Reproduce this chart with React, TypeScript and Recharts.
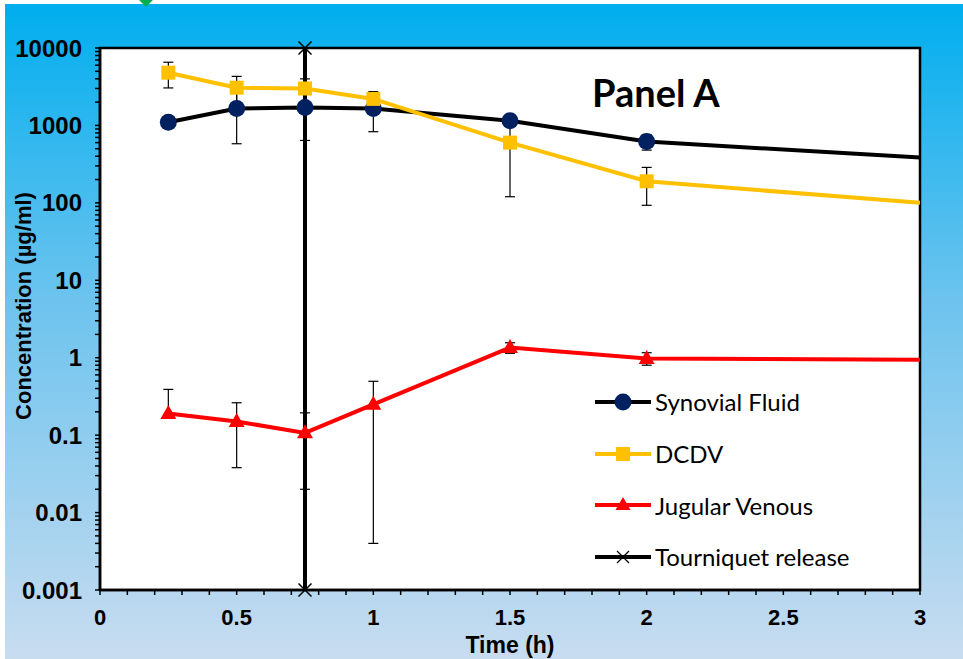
import React from "react";
import {
  LineChart,
  Line,
  XAxis,
  YAxis,
  ErrorBar,
  Legend,
  CartesianGrid,
  ReferenceArea,
} from "recharts";

// sampling times (h)
const times = [0.25, 0.5, 0.75, 1, 1.5, 2, 3];
// concentrations (µg/ml)
const synovialFluid = [1100, 1650, 1700, 1650, 1150, 620, 385];
const synovialErr = [null, 1070, 1060, 820, null, 140, null];
const dcdv = [4800, 3070, 3000, 2200, 600, 190, 100];
const dcdvErr = [1750, 1230, 990, 535, 480, 97, null];
const jugularVenous = [0.19, 0.15, 0.107, 0.25, 1.35, 0.98, 0.94];
const jugularErr = [[0.01, 0.2], 0.112, 0.087, 0.246, 0.21, 0.18, null];
// times with a plotted marker (last point is line only)
const markedTimes = [0.25, 0.5, 0.75, 1, 1.5, 2];

const tourniquetTime = [0.75, 0.75];
const tourniquetValue = [0.001, 10000];

const seriesNames = ["Synovial Fluid", "DCDV", "Jugular Venous", "Tourniquet release"];

const yDecades = [0.001, 0.01, 0.1, 1, 10, 100, 1000, 10000];
const yMinorSteps = [2, 3, 4, 5, 6, 7, 8, 9];
const xTicks = Array.from({ length: 31 }, (_, i) => Number((i * 0.1).toFixed(1)));
const xLabelTicks = [0, 0.5, 1, 1.5, 2, 2.5, 3];

const yTicks = [
  ...yDecades,
  ...yDecades.slice(0, -1).flatMap((d) => yMinorSteps.map((m) => d * m)),
].sort((a, b) => a - b);

const data = times.map((t, i) => ({
  t,
  synovial: synovialFluid[i],
  synovialErr: synovialErr[i],
  dcdv: dcdv[i],
  dcdvErr: dcdvErr[i],
  jugular: jugularVenous[i],
  jugularErr: jugularErr[i],
}));

const tourniquetData = tourniquetTime.map((t, i) => ({ t, release: tourniquetValue[i] }));

const NAVY = "#002060";
const GOLD = "#FFC000";
const RED = "#FF0000";
const AXIS_FONT = "'Liberation Sans', Arial, sans-serif";
const LEGEND_FONT = "Lato, 'Open Sans', sans-serif";

const isMarked = (p: any) => markedTimes.includes(p?.payload?.t);

const CircleDot = (p: any) =>
  isMarked(p) ? (
    <circle key={`c${p.index}`} cx={p.cx} cy={p.cy} r={8.5} fill={NAVY} />
  ) : (
    <g key={`c${p.index}`} />
  );

const SquareDot = (p: any) =>
  isMarked(p) ? (
    <rect key={`s${p.index}`} x={p.cx - 7} y={p.cy - 7} width={14} height={14} fill={GOLD} />
  ) : (
    <g key={`s${p.index}`} />
  );

const TriangleDot = (p: any) =>
  isMarked(p) ? (
    <polygon
      key={`t${p.index}`}
      points={`${p.cx},${p.cy - 8.5} ${p.cx - 8},${p.cy + 5.5} ${p.cx + 8},${p.cy + 5.5}`}
      fill={RED}
    />
  ) : (
    <g key={`t${p.index}`} />
  );

const CrossDot = (p: any) => (
  <path
    key={`x${p.index}`}
    d={`M${p.cx - 6.5},${p.cy - 6.5}L${p.cx + 6.5},${p.cy + 6.5}M${p.cx - 6.5},${p.cy + 6.5}L${p.cx + 6.5},${p.cy - 6.5}`}
    stroke="#000"
    strokeWidth={1.5}
    fill="none"
  />
);

const XTick = ({ x, y, payload }: any) => {
  if (!xLabelTicks.includes(payload.value)) return <g />;
  return (
    <text
      x={x}
      y={y}
      dy="0.71em"
      textAnchor="middle"
      fontFamily={AXIS_FONT}
      fontWeight="bold"
      fontSize={22}
      fill="#000"
    >
      {String(payload.value)}
    </text>
  );
};

const YTick = ({ x, y, payload }: any) => {
  if (!yDecades.includes(payload.value)) return <g />;
  return (
    <text
      x={x}
      y={y}
      dy="0.36em"
      textAnchor="end"
      fontFamily={AXIS_FONT}
      fontWeight="bold"
      fontSize={24}
      fill="#000"
    >
      {String(payload.value)}
    </text>
  );
};

const legendIcon = (name: string, color: string) => {
  const line = <line x1={0} y1={12} x2={56} y2={12} stroke={color} strokeWidth={4} />;
  let mark: React.ReactNode = null;
  if (name === "Synovial Fluid") mark = <circle cx={28} cy={12} r={8.5} fill={NAVY} />;
  if (name === "DCDV") mark = <rect x={21} y={5} width={14} height={14} fill={GOLD} />;
  if (name === "Jugular Venous")
    mark = <polygon points="28,4 20.5,17 35.5,17" fill={RED} />;
  if (name === "Tourniquet release")
    mark = <path d="M22,6L34,18M22,18L34,6" stroke="#000" strokeWidth={1.3} />;
  return (
    <svg width={58} height={24} style={{ display: "block" }}>
      {line}
      {mark}
    </svg>
  );
};

const renderLegend = (props: any) => {
  const items = [...(props.payload || [])].sort(
    (a: any, b: any) => seriesNames.indexOf(a.value) - seriesNames.indexOf(b.value)
  );
  return (
    <div style={{ fontFamily: LEGEND_FONT, fontSize: 24, color: "#000" }}>
      {items.map((entry: any) => (
        <div
          key={entry.value}
          style={{ display: "flex", alignItems: "center", height: 51.7, gap: 2 }}
        >
          {legendIcon(entry.value, entry.color)}
          <span>{entry.value}</span>
        </div>
      ))}
    </div>
  );
};

export default function App() {
  return (
    <div style={{ position: "absolute", left: 0, top: 0, width: 963, height: 659, background: "#fff" }}>
      <div
        style={{
          position: "absolute",
          left: 5,
          top: 4,
          width: 958,
          height: 655,
          background: "linear-gradient(to bottom, #00AEEF 0%, #6CC3EE 45%, #C8DCF0 100%)",
        }}
      />
      <div
        style={{
          position: "absolute",
          left: 139,
          top: -10,
          width: 14,
          height: 14,
          background: "#00B050",
          transform: "rotate(45deg)",
        }}
      />
      <div style={{ position: "absolute", left: 0, top: 0 }}>
        <LineChart
          width={963}
          height={659}
          data={data}
          margin={{ top: 48, right: 43, bottom: 0, left: 0 }}
        >
          <CartesianGrid horizontal={false} vertical={false} fill="#fff" />
          <XAxis
            dataKey="t"
            type="number"
            domain={[0, 3]}
            ticks={xTicks}
            interval={0}
            height={69}
            tickSize={5}
            tickMargin={14}
            tick={XTick}
            axisLine={{ stroke: "#000", strokeWidth: 2.5 }}
            tickLine={{ stroke: "#000", strokeWidth: 1.5 }}
            label={{
              value: "Time (h)",
              position: "insideBottom",
              offset: 6,
              fontFamily: AXIS_FONT,
              fontWeight: "bold",
              fontSize: 23,
              fill: "#000",
            }}
          />
          <YAxis
            type="number"
            scale="log"
            domain={[0.001, 10000]}
            ticks={yTicks}
            interval={0}
            width={100}
            tickSize={5}
            tickMargin={13}
            tick={YTick}
            axisLine={{ stroke: "#000", strokeWidth: 2.5 }}
            tickLine={{ stroke: "#000", strokeWidth: 1.5 }}
          />
          <ReferenceArea
            x1={0}
            x2={3}
            y1={0.001}
            y2={10000}
            fill="none"
            stroke="#000"
            strokeWidth={2.5}
          />
          <Line
            name="Synovial Fluid"
            dataKey="synovial"
            type="linear"
            stroke="#000"
            strokeWidth={4}
            dot={CircleDot}
            activeDot={false}
            isAnimationActive={false}
          >
            <ErrorBar dataKey="synovialErr" direction="y" width={5} stroke="#000" strokeWidth={1.2} />
          </Line>
          <Line
            name="DCDV"
            dataKey="dcdv"
            type="linear"
            stroke={GOLD}
            strokeWidth={4}
            dot={SquareDot}
            activeDot={false}
            isAnimationActive={false}
          >
            <ErrorBar dataKey="dcdvErr" direction="y" width={5} stroke="#000" strokeWidth={1.2} />
          </Line>
          <Line
            name="Jugular Venous"
            dataKey="jugular"
            type="linear"
            stroke={RED}
            strokeWidth={4}
            dot={TriangleDot}
            activeDot={false}
            isAnimationActive={false}
          >
            <ErrorBar dataKey="jugularErr" direction="y" width={5} stroke="#000" strokeWidth={1.2} />
          </Line>
          <Line
            name="Tourniquet release"
            data={tourniquetData}
            dataKey="release"
            type="linear"
            stroke="#000"
            strokeWidth={4}
            dot={CrossDot}
            activeDot={false}
            isAnimationActive={false}
          />
          <Legend
            layout="vertical"
            align="center"
            verticalAlign="middle"
            content={renderLegend}
            wrapperStyle={{ left: 595, top: 376, width: 320 }}
          />
          <text
            x={592}
            y={107}
            fontFamily={LEGEND_FONT}
            fontWeight="bold"
            fontSize={38}
            fill="#000"
          >
            Panel A
          </text>
          <text
            x={23}
            y={306}
            transform="rotate(-90, 23, 306)"
            textAnchor="middle"
            dominantBaseline="central"
            fontFamily={AXIS_FONT}
            fontWeight="bold"
            fontSize={22}
            fill="#000"
          >
            Concentration (µg/ml)
          </text>
        </LineChart>
      </div>
    </div>
  );
}
